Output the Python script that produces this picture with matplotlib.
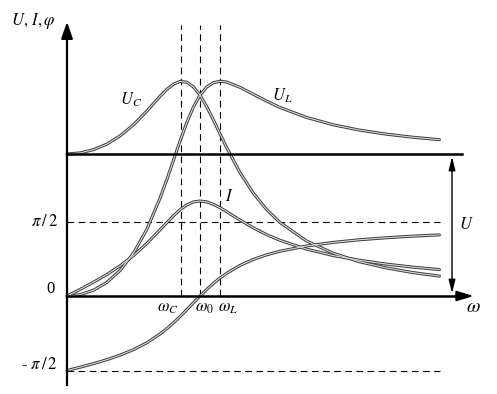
import numpy as np
import matplotlib
matplotlib.use("Agg")
import matplotlib.pyplot as plt

plt.rcParams['mathtext.fontset'] = 'stix'
plt.rcParams['font.family'] = ['Liberation Serif', 'DejaVu Serif']

# frequency, in units of omega_0
w = [0, 0.1, 0.2, 0.3, 0.4, 0.5, 0.6, 0.7, 0.75, 0.8, 0.85, 0.9, 0.95, 1.0,
     1.05, 1.1, 1.15, 1.2, 1.3, 1.4, 1.5, 1.6, 1.8, 2.0, 2.2, 2.4, 2.6, 2.8]
# capacitor voltage / U
u_c = [1.0, 1.008, 1.031, 1.070, 1.128, 1.206, 1.302, 1.407, 1.455, 1.491, 1.511,
       1.506, 1.473, 1.414, 1.334, 1.241, 1.143, 1.046, 0.870, 0.725, 0.610, 0.519,
       0.388, 0.302, 0.241, 0.198, 0.165, 0.140]
# inductor voltage / U
u_l = [0.0, 0.010, 0.041, 0.096, 0.181, 0.302, 0.469, 0.690, 0.818, 0.955, 1.091,
       1.220, 1.330, 1.414, 1.471, 1.502, 1.512, 1.507, 1.470, 1.421, 1.373, 1.328,
       1.258, 1.206, 1.168, 1.140, 1.118, 1.101]
# current / I0
cur = [0.0, 0.071, 0.146, 0.227, 0.319, 0.426, 0.553, 0.697, 0.771, 0.844, 0.908,
       0.958, 0.990, 1.0, 0.991, 0.965, 0.930, 0.888, 0.800, 0.718, 0.647, 0.587,
       0.494, 0.426, 0.376, 0.336, 0.304, 0.278]
# phase, rad
phi = [-1.571, -1.500, -1.425, -1.342, -1.246, -1.130, -0.986, -0.800, -0.690,
       -0.567, -0.433, -0.290, -0.144, 0.0, 0.137, 0.264, 0.378, 0.478, 0.644,
       0.770, 0.867, 0.943, 1.054, 1.130, 1.186, 1.228, 1.262, 1.289]

w_marks = [0.86, 1.0, 1.15]
w_mark_labels = [r'$\omega_C$', r'$\omega_0$', r'$\omega_L$']

I_SCALE = 0.669            # current peak height in U units
PHI_SCALE = 0.334          # U units per radian

fig = plt.figure(figsize=(4.97, 3.94), dpi=100)
ax = fig.add_axes([0, 0, 1, 1])
ax.set_xlim(-0.5038, 3.2331)
ax.set_ylim(-0.6901, 2.0845)
ax.axis('off')


def curve(x, y):
    ax.plot(x, y, color='#3a3a3a', lw=2.2, solid_capstyle='round', zorder=3)
    ax.plot(x, y, color='#dcdcdc', lw=0.8, solid_capstyle='round', zorder=4)


curve(w, u_c)
curve(w, u_l)
curve(w, np.array(cur) * I_SCALE)
curve(w, np.array(phi) * PHI_SCALE)

# axes
ax.plot([0, 0], [-0.627, 1.85], color='black', lw=1.6, zorder=5)
ax.annotate('', xy=(0, 1.95), xytext=(0, 1.80),
            arrowprops=dict(arrowstyle='-|>,head_width=0.35,head_length=1.0',
                            color='black', lw=1.5), zorder=5)
ax.plot([0, 2.98], [0, 0], color='black', lw=1.8, zorder=5)
ax.annotate('', xy=(3.08, 0), xytext=(2.9, 0),
            arrowprops=dict(arrowstyle='-|>,head_width=0.3,head_length=1.0',
                            color='black', lw=1.5), zorder=5)
ax.plot([0, 2.97], [1, 1], color='black', lw=1.8, zorder=5)

# U arrow
ax.annotate('', xy=(2.895, 1.0), xytext=(2.895, 0.0),
            arrowprops=dict(arrowstyle='<|-|>,head_width=0.2,head_length=0.8',
                            color='black', lw=1.0), zorder=5)
ax.text(2.95, 0.5, '$U$', fontsize=12, ha='left', va='center')

# dashed levels
dash = dict(color='black', lw=0.8, dashes=(6, 4), zorder=2)
ax.plot([0, 2.805], [np.pi / 2 * PHI_SCALE] * 2, **dash)
ax.plot([0, 2.805], [-np.pi / 2 * PHI_SCALE] * 2, **dash)
for xm in w_marks:
    ax.plot([xm, xm], [0, 1.91], **dash)

# labels
ax.text(-0.07, np.pi / 2 * PHI_SCALE, r'$\pi\,/\,2$', fontsize=12, ha='right', va='center')
ax.text(-0.09, 0.05, '0', fontsize=12, ha='right', va='center')
ax.text(-0.07, -np.pi / 2 * PHI_SCALE + 0.04, r'- $\pi\,/\,2$', fontsize=12,
        ha='right', va='center')
ax.text(-0.09, 1.94, r'$U,\,I,\varphi$', fontsize=12, ha='right', va='center')
ax.text(3.0, -0.08, r'$\omega$', fontsize=14, ha='left', va='center')

for xm, lab, dx in zip(w_marks, w_mark_labels, [-0.10, 0.03, 0.06]):
    ax.text(xm + dx, -0.03, lab, fontsize=12, ha='center', va='top')

ax.text(0.48, 1.38, '$U_C$', fontsize=12, ha='center', va='center')
ax.text(1.62, 1.41, '$U_L$', fontsize=12, ha='center', va='center')
ax.text(1.22, 0.7, '$I$', fontsize=12, ha='center', va='center')

fig.savefig('out.png', dpi=100)
